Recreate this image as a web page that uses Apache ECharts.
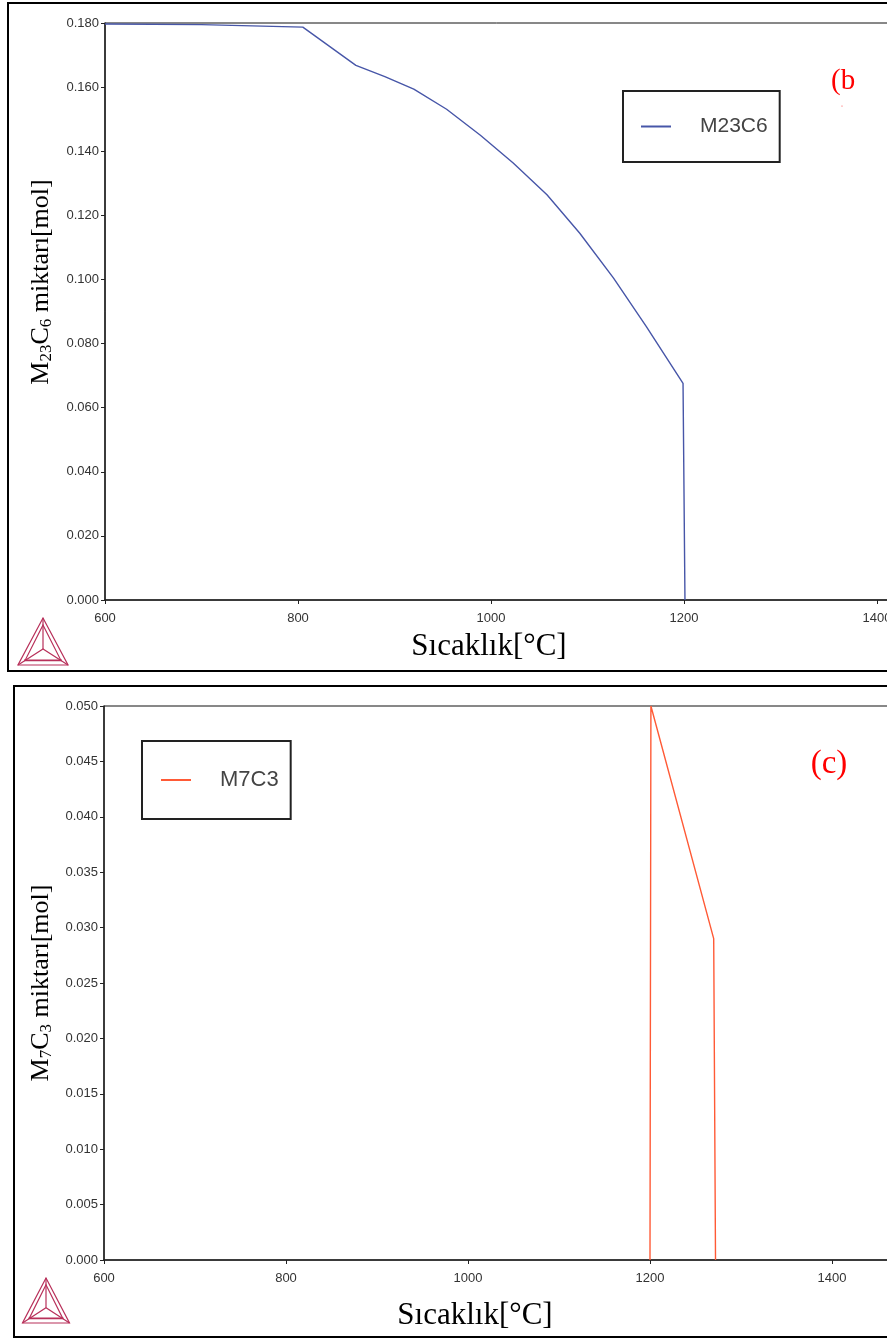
<!DOCTYPE html>
<html>
<head>
<meta charset="utf-8">
<script src="https://cdn.jsdelivr.net/npm/echarts@6/dist/echarts.min.js"></script>
<style>
  html, body { margin: 0; padding: 0; background: #fff; overflow: hidden; }
  #chart { width: 887px; height: 1340px; }
</style>
</head>
<body>
<div id="chart"></div>
<script>
// M23C6 ve M7C3 miktarı - sıcaklık
var m23c6_T = [600, 700, 805, 860, 890, 920, 954, 989, 1023, 1058, 1092, 1127, 1161, 1199, 1201];
var m23c6_V = [0.1797, 0.1795, 0.1787, 0.1668, 0.1633, 0.1594, 0.1531, 0.1450, 0.1363, 0.1264, 0.1144, 0.1004, 0.0853, 0.0676, 0];

var m7c3_T = [1200, 1201, 1270, 1272];
var m7c3_V = [0, 0.050, 0.029, 0];

var xTicks = [600, 800, 1000, 1200, 1400];

var chart = echarts.init(document.getElementById('chart'));

function pairs(xs, ys) {
    return xs.map(function (x, i) { return [x, ys[i]]; });
}

// Thermo-Calc logosu
function logo(ax, ay, w, h) {
    var bl = [ax - w / 2, ay + h], br = [ax + w / 2, ay + h], c = [ax, ay + h * 0.66];
    var k = 0.72;
    var inn = [[ax, ay + h * 0.15], [c[0] + (bl[0] - c[0]) * k, c[1] + (bl[1] - c[1]) * k], [c[0] + (br[0] - c[0]) * k, c[1] + (br[1] - c[1]) * k]];
    var st = { stroke: '#b8305a', lineWidth: 1.2, fill: null };
    return [
        { type: 'polygon', shape: { points: [[ax, ay], bl, br] }, style: st },
        { type: 'polygon', shape: { points: inn }, style: st },
        { type: 'polyline', shape: { points: [[ax, ay], c] }, style: st },
        { type: 'polyline', shape: { points: [bl, c, br] }, style: st },
        { type: 'polyline', shape: { points: [[bl[0] + 6, bl[1] - 5], [br[0] - 6, br[1] - 5]] }, style: st }
    ];
}

var tickFont = { fontFamily: 'Liberation Sans, Arial', fontSize: 13, color: '#333' };
var axisLine = { show: true, lineStyle: { color: '#222', width: 1.5 } };

function xAx(idx, max) {
    return {
        gridIndex: idx, type: 'value', min: 600, max: max, interval: 200,
        splitLine: { show: false }, axisLine: axisLine,
        axisTick: { show: true, inside: false, length: 4, lineStyle: { color: '#222' } },
        axisLabel: Object.assign({ margin: 12, showMaxLabel: false,
            formatter: function (v) { return xTicks.indexOf(v) >= 0 ? String(v) : ''; } }, tickFont)
    };
}
function yAx(idx, max, step) {
    return {
        gridIndex: idx, type: 'value', min: 0, max: max, interval: step,
        splitLine: { show: false }, axisLine: axisLine,
        axisTick: { show: true, inside: false, length: 4, lineStyle: { color: '#222' } },
        axisLabel: Object.assign({ margin: 6, formatter: function (v) { return v.toFixed(3); } }, tickFont)
    };
}

var serif = 'Liberation Serif, Times New Roman, serif';

var option = {
    backgroundColor: '#fff',
    animation: false,
    grid: [
        { left: 105, top: 23, width: 868.5, height: 577, outerBoundsMode: 'none', containLabel: false,
          show: true, borderColor: '#111', borderWidth: 1, backgroundColor: 'transparent' },
        { left: 104, top: 706, width: 819, height: 554, outerBoundsMode: 'none', containLabel: false,
          show: true, borderColor: '#111', borderWidth: 1, backgroundColor: 'transparent' }
    ],
    xAxis: [xAx(0, 1500), xAx(1, 1500)],
    yAxis: [yAx(0, 0.18, 0.02), yAx(1, 0.05, 0.005)],
    legend: [
        {
            data: ['M23C6'], left: 623, top: 91, orient: 'vertical',
            padding: [25, 12, 25, 18], borderColor: '#222', borderWidth: 2, backgroundColor: '#fff',
            itemWidth: 30, itemHeight: 2, icon: 'path://M0,0H30V2H0Z',
            textStyle: { fontFamily: 'Liberation Sans, Arial', fontSize: 21, lineHeight: 20, color: '#444', padding: [0, 0, 0, 24] }
        },
        {
            data: ['M7C3'], left: 142, top: 741, orient: 'vertical',
            padding: [28, 12, 28, 19], borderColor: '#222', borderWidth: 2, backgroundColor: '#fff',
            itemWidth: 30, itemHeight: 2, icon: 'path://M0,0H30V2H0Z',
            textStyle: { fontFamily: 'Liberation Sans, Arial', fontSize: 22, lineHeight: 22, color: '#444', padding: [0, 0, 0, 24] }
        }
    ],
    series: [
        {
            name: 'M23C6', type: 'line', xAxisIndex: 0, yAxisIndex: 0,
            data: pairs(m23c6_T, m23c6_V), showSymbol: false, smooth: false,
            itemStyle: { color: '#4756a8' }, lineStyle: { color: '#4756a8', width: 1.4 }
        },
        {
            name: 'M7C3', type: 'line', xAxisIndex: 1, yAxisIndex: 1,
            data: pairs(m7c3_T, m7c3_V), showSymbol: false, smooth: false,
            itemStyle: { color: '#ff5a36' }, lineStyle: { color: '#ff5a36', width: 1.4 }
        }
    ],
    graphic: [
        { type: 'rect', shape: { x: 8, y: 3, width: 920, height: 668 }, style: { stroke: '#000', lineWidth: 2, fill: null }, z: 100 },
        { type: 'rect', shape: { x: 14, y: 686, width: 920, height: 651 }, style: { stroke: '#000', lineWidth: 2, fill: null }, z: 100 },
        { type: 'text', x: 489, y: 647, style: { text: 'Sıcaklık[°C]', font: '31px ' + serif, fill: '#000', align: 'center', verticalAlign: 'middle' } },
        { type: 'text', x: 475, y: 1316, style: { text: 'Sıcaklık[°C]', font: '31px ' + serif, fill: '#000', align: 'center', verticalAlign: 'middle' } },
        {
            type: 'text', x: 41, y: 282, rotation: Math.PI / 2,
            style: {
                text: '{a|M}{s|23}{a|C}{s|6}{a| miktarı[mol]}', align: 'center', verticalAlign: 'middle', fill: '#000',
                rich: {
                    a: { fontFamily: serif, fontSize: 26, lineHeight: 28, verticalAlign: 'middle' },
                    s: { fontFamily: serif, fontSize: 17, lineHeight: 12, verticalAlign: 'bottom' }
                }
            }
        },
        {
            type: 'text', x: 41, y: 983, rotation: Math.PI / 2,
            style: {
                text: '{a|M}{s|7}{a|C}{s|3}{a| miktarı[mol]}', align: 'center', verticalAlign: 'middle', fill: '#000',
                rich: {
                    a: { fontFamily: serif, fontSize: 26, lineHeight: 28, verticalAlign: 'middle' },
                    s: { fontFamily: serif, fontSize: 17, lineHeight: 12, verticalAlign: 'bottom' }
                }
            }
        },
        { type: 'text', x: 831, y: 81, style: { text: '(b', font: '29px ' + serif, fill: '#ff0000', verticalAlign: 'middle' } },
        { type: 'circle', shape: { cx: 842, cy: 106, r: 0.6 }, style: { fill: '#ff4040' } },
        { type: 'text', x: 829, y: 764, style: { text: '(c)', font: '33px ' + serif, fill: '#ff0000', align: 'center', verticalAlign: 'middle' } }
    ].concat(logo(43, 618, 50, 47)).concat(logo(46, 1278, 47, 45))
};

chart.setOption(option);
</script>
</body>
</html>
